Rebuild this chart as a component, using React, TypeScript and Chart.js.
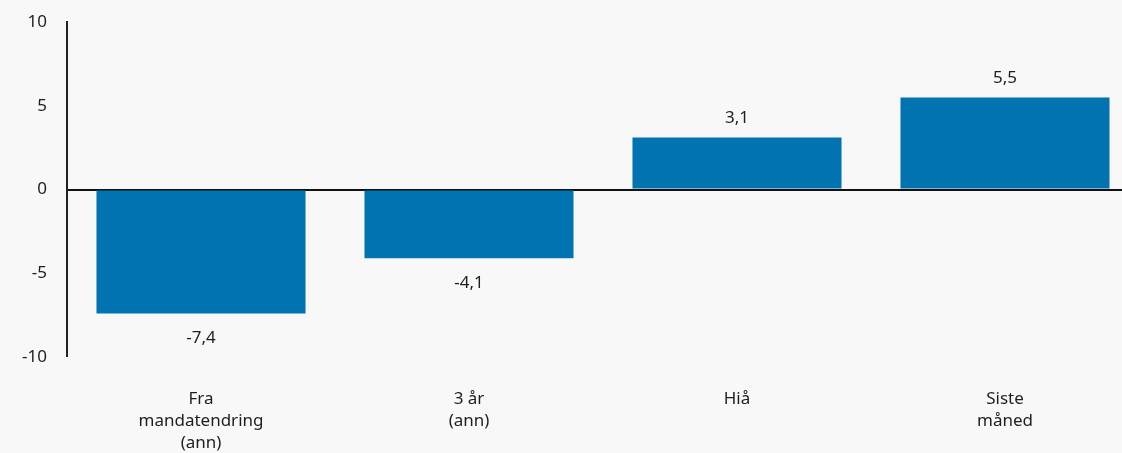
import React, { useEffect, useRef } from "react";
import { Chart, registerables } from "chart.js";

Chart.register(...registerables);

const categories: string[][] = [["Fra", "mandatendring", "(ann)"], ["3 år", "(ann)"], ["Hiå"], ["Siste", "måned"]];
const values: number[] = [-7.4, -4.1, 3.1, 5.5];
const yTicks: number[] = [-10, -5, 0, 5, 10];
const valueLabels: string[] = ["-7,4", "-4,1", "3,1", "5,5"];

const FONT = "'Noto Sans', 'DejaVu Sans', sans-serif";

const labelPlugin = {
  id: "valueLabels",
  afterDatasetsDraw(chart: any) {
    const ctx = chart.ctx;
    const meta = chart.getDatasetMeta(0);
    ctx.save();
    ctx.font = `17px ${FONT}`;
    ctx.fillStyle = "#1e1e1e";
    ctx.textAlign = "center";
    meta.data.forEach((bar: any, i: number) => {
      const v = values[i];
      if (v >= 0) {
        ctx.textBaseline = "bottom";
        ctx.fillText(valueLabels[i], bar.x, bar.y - 11);
      } else {
        ctx.textBaseline = "top";
        ctx.fillText(valueLabels[i], bar.x, bar.y + 16);
      }
    });
    ctx.restore();
  },
};

export default function App() {
  const ref = useRef<HTMLCanvasElement>(null);
  useEffect(() => {
    if (!ref.current) return;
    const chart = new Chart(ref.current, {
      type: "bar",
      data: {
        labels: categories,
        datasets: [
          {
            data: values,
            backgroundColor: "#0073b0",
            barPercentage: 0.78,
            categoryPercentage: 1,
          },
        ],
      },
      options: {
        animation: false,
        responsive: false,
        maintainAspectRatio: false,
        layout: { padding: { top: 22, left: 0, right: 0, bottom: 0 } },
        plugins: { legend: { display: false }, tooltip: { enabled: false } },
        scales: {
          x: {
            grid: { display: false },
            border: { display: false },
            ticks: {
              color: "#1e1e1e",
              font: { family: FONT, size: 17, lineHeight: 1.3 },
              padding: 23,
              maxRotation: 0,
              autoSkip: false,
            },
            afterFit: (s: any) => {
              s.height = 96;
              s.paddingLeft = 0;
              s.paddingRight = 0;
            },
          },
          y: {
            min: -10,
            max: 10,
            afterBuildTicks: (s: any) => {
              s.ticks = yTicks.map((v) => ({ value: v }));
            },
            grid: {
              drawTicks: false,
              color: (c: any) => (c.tick && c.tick.value === 0 ? "#111" : "rgba(0,0,0,0)"),
              lineWidth: (c: any) => (c.tick && c.tick.value === 0 ? 2 : 0),
            },
            border: { display: true, color: "#222", width: 2 },
            ticks: {
              color: "#1e1e1e",
              font: { family: FONT, size: 17 },
              padding: 20,
              callback: (v: any) => String(v),
            },
            afterFit: (s: any) => {
              s.width = 67;
              s.paddingTop = 0;
              s.paddingBottom = 0;
            },
          },
        },
      },
      plugins: [labelPlugin],
    });
    return () => chart.destroy();
  }, []);
  return (
    <div
      style={{
        position: "fixed",
        left: 0,
        top: 0,
        width: 1122,
        height: 453,
        overflow: "hidden",
        background: "#f8f8f8",
      }}
    >
      <canvas ref={ref} width={1139} height={453} style={{ display: "block", width: 1139, height: 453 }} />
    </div>
  );
}
